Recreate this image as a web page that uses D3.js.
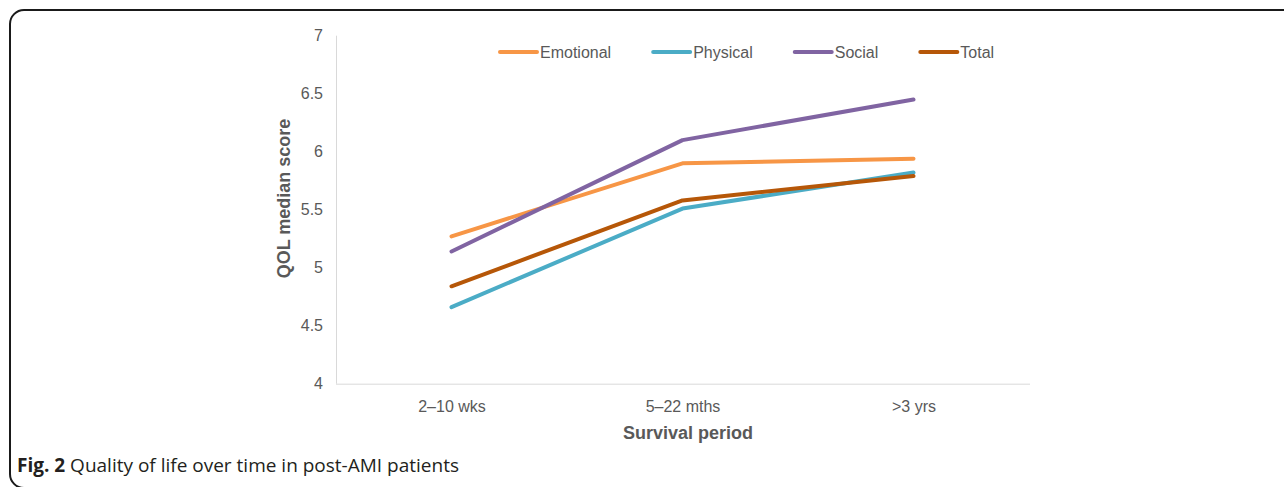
<!DOCTYPE html>
<html>
<head>
<meta charset="utf-8">
<script src="https://cdn.jsdelivr.net/npm/d3@7/dist/d3.min.js"></script>
<style>
  html, body { margin: 0; padding: 0; background: #fff; }
  svg { display: block; }
</style>
</head>
<body>
<svg id="chart" width="1284" height="487"></svg>
<script>
// Survival periods on the x axis
const periods = ["2\u201310 wks", "5\u201322 mths", ">3 yrs"];

// Median QOL score per domain, one value per survival period
const emotional = [5.27, 5.90, 5.94];
const physical  = [4.66, 5.51, 5.82];
const social    = [5.14, 6.10, 6.45];
const total     = [4.84, 5.58, 5.79];

const seriesNames = ["Emotional", "Physical", "Social", "Total"];
const seriesColors = ["#F79646", "#4BACC6", "#8064A2", "#B65708"];

// Y axis tick values and labels
const yTicks = [4, 4.5, 5, 5.5, 6, 6.5, 7];

const series = [
  { name: seriesNames[0], values: emotional, color: seriesColors[0] },
  { name: seriesNames[1], values: physical,  color: seriesColors[1] },
  { name: seriesNames[2], values: social,    color: seriesColors[2] },
  { name: seriesNames[3], values: total,     color: seriesColors[3] }
];

const svg = d3.select("#chart");

// Figure frame with rounded corners
svg.append("rect")
  .attr("x", 10).attr("y", 10)
  .attr("width", 1400).attr("height", 478)
  .attr("rx", 14).attr("ry", 14)
  .attr("fill", "none")
  .attr("stroke", "#1a1a1a")
  .attr("stroke-width", 2);

const plot = { left: 336, right: 1029, top: 35.7, bottom: 383.7 };

const x = d3.scalePoint()
  .domain(periods)
  .range([plot.left, plot.right])
  .padding(0.5);

const y = d3.scaleLinear()
  .domain([4, 7])
  .range([plot.bottom, plot.top]);

const textColor = "#595959";
const font = "'Liberation Sans', Arial, sans-serif";

// Y axis
const yAxis = svg.append("g")
  .attr("transform", `translate(${plot.left},0)`)
  .call(d3.axisLeft(y).tickValues(yTicks).tickSize(0).tickPadding(13)
    .tickFormat(d3.format("")));
yAxis.select(".domain")
  .attr("stroke", "#d9d9d9").attr("stroke-width", 1)
  .attr("d", `M0.5,${plot.top}V${plot.bottom}`);
yAxis.selectAll("text")
  .attr("fill", textColor)
  .style("font-family", font)
  .style("font-size", "16px");

// X axis
const xAxis = svg.append("g")
  .attr("transform", `translate(0,${plot.bottom})`)
  .call(d3.axisBottom(x).tickSize(0).tickPadding(17));
xAxis.select(".domain")
  .attr("stroke", "#d9d9d9").attr("stroke-width", 1)
  .attr("d", `M${plot.left},0.5H${plot.right + 1}`);
xAxis.selectAll("text")
  .attr("fill", textColor)
  .style("font-family", font)
  .style("font-size", "16px");

// Axis titles
svg.append("text")
  .attr("transform", "translate(284,198.5) rotate(-90)")
  .attr("text-anchor", "middle")
  .attr("dominant-baseline", "central")
  .attr("fill", textColor)
  .style("font-family", font)
  .style("font-size", "18px")
  .style("font-weight", "bold")
  .text("QOL median score");

svg.append("text")
  .attr("x", 688).attr("y", 433)
  .attr("text-anchor", "middle")
  .attr("dominant-baseline", "central")
  .attr("fill", textColor)
  .style("font-family", font)
  .style("font-size", "18px")
  .style("font-weight", "bold")
  .text("Survival period");

// Series lines
const line = d3.line()
  .x((d, i) => x(periods[i]))
  .y(d => y(d));

svg.append("g")
  .selectAll("path")
  .data(series)
  .join("path")
  .attr("d", d => line(d.values))
  .attr("fill", "none")
  .attr("stroke", d => d.color)
  .attr("stroke-width", 4)
  .attr("stroke-linecap", "round")
  .attr("stroke-linejoin", "round");

// Legend laid out left to right
const legend = svg.append("g");
let lx = 499;
const ly = 52;
series.forEach(s => {
  legend.append("line")
    .attr("x1", lx + 1).attr("x2", lx + 38)
    .attr("y1", ly).attr("y2", ly)
    .attr("stroke", s.color)
    .attr("stroke-width", 4)
    .attr("stroke-linecap", "round");
  const t = legend.append("text")
    .attr("x", lx + 41).attr("y", ly)
    .attr("dominant-baseline", "central")
    .attr("fill", textColor)
    .style("font-family", font)
    .style("font-size", "16px")
    .text(s.name);
  lx += 41 + t.node().getComputedTextLength() + 41;
});

// Figure caption
const cap = svg.append("text")
  .attr("x", 17).attr("y", 472)
  .attr("fill", "#231f20")
  .style("font-family", "'Open Sans', sans-serif")
  .style("font-size", "19px");
cap.append("tspan").style("font-weight", "bold").text("Fig. 2");
cap.append("tspan").text(" Quality of life over time in post-AMI patients");
</script>
</body>
</html>
